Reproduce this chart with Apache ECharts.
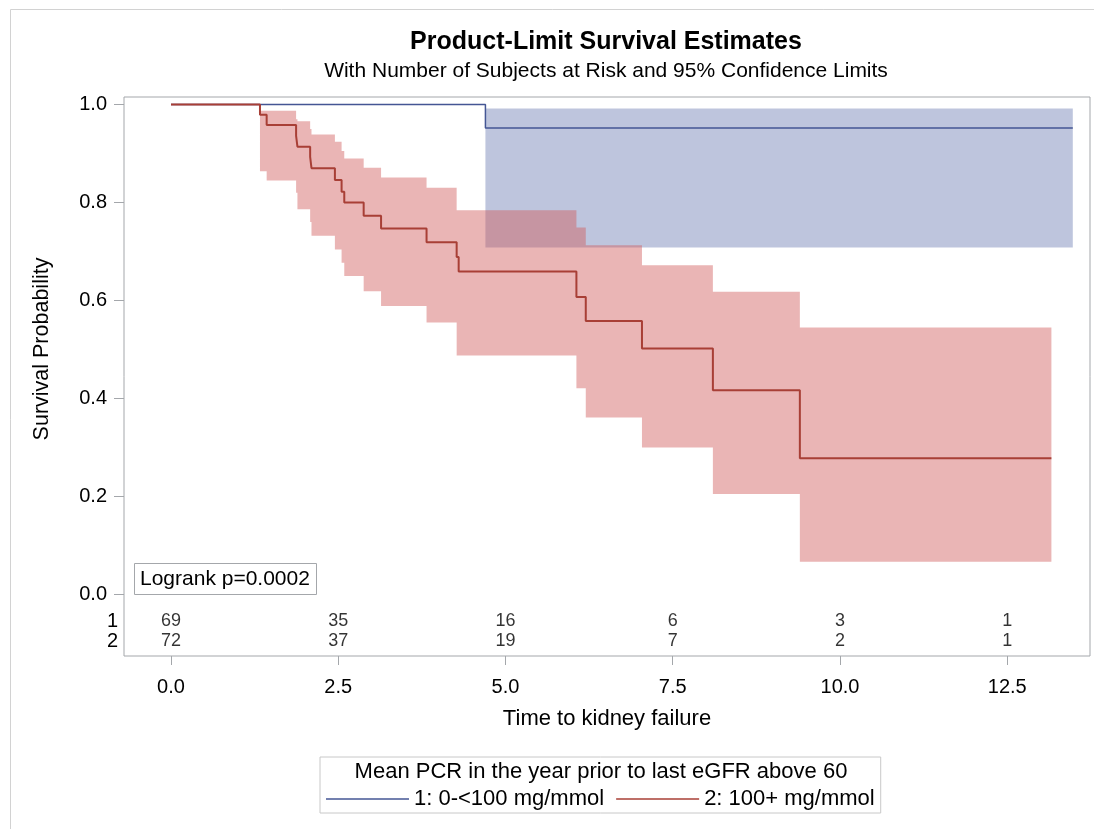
<!DOCTYPE html>
<html><head><meta charset="utf-8">
<script src="https://cdn.jsdelivr.net/npm/echarts@6/dist/echarts.min.js"></script>
<style>html,body{margin:0;padding:0;background:#fff}#c{width:1094px;height:829px}</style>
</head><body><div id="c"></div>
<script>
// ---- data ----
const xTicks = [0, 2.5, 5, 7.5, 10, 12.5];
const yTicks = [0, 0.2, 0.4, 0.6, 0.8, 1.0];
const groupNames = ['1: 0-<100 mg/mmol', '2: 100+ mg/mmol'];
const riskRowLabels = ['1', '2'];
const riskTimes = [0, 2.5, 5, 7.5, 10, 12.5];
const riskGroup1 = [69, 35, 16, 6, 3, 1];
const riskGroup2 = [72, 37, 19, 7, 2, 1];

const g1Time  = [0, 4.70, 13.48];
const g1Surv  = [1, 0.952, 0.952];
const g1Lower = [1, 0.708, 0.708];
const g1Upper = [1, 0.992, 0.992];

const g2Time  = [0, 1.33, 1.43, 1.87, 1.89, 2.08, 2.10, 2.45, 2.55, 2.59, 2.88, 3.14, 3.82, 4.27, 4.30, 6.06, 6.20, 7.04, 8.10, 9.40, 13.16];
const g2Surv  = [1, 0.979, 0.958, 0.936, 0.914, 0.893, 0.870, 0.846, 0.822, 0.800, 0.773, 0.747, 0.719, 0.689, 0.659, 0.607, 0.558, 0.502, 0.417, 0.278, 0.278];
const g2Lower = [1, 0.864, 0.845, 0.820, 0.786, 0.760, 0.732, 0.704, 0.677, 0.650, 0.619, 0.589, 0.555, 0.488, 0.488, 0.421, 0.361, 0.300, 0.205, 0.067, 0.067];
const g2Upper = [1, 0.987, 0.987, 0.970, 0.966, 0.950, 0.939, 0.924, 0.905, 0.890, 0.871, 0.851, 0.830, 0.784, 0.784, 0.749, 0.713, 0.672, 0.618, 0.545, 0.545];

const logrankText = 'Logrank p=0.0002';
const titleText = 'Product-Limit Survival Estimates';
const subtitleText = 'With Number of Subjects at Risk and 95% Confidence Limits';
const legendTitle = 'Mean PCR in the year prior to last eGFR above 60';
const xName = 'Time to kidney failure';
const yName = 'Survival Probability';

// ---- styling / layout ----
const FONT = "'Liberation Sans', Arial, sans-serif";
const FRAME = '#a4a7ab';
const BLUE = '#445694', RED = '#A83F36';
const BLUE_FILL = 'rgba(111,126,179,0.45)', RED_FILL = 'rgba(208,91,91,0.45)';
const X_MIN = -0.7025, X_MAX = 13.737;
const Y_MIN = -0.1255, Y_MAX = 1.0153;

const pairs = (t, v) => t.map((x, i) => [x, v[i]]);

// confidence band as one stepped polygon, mapped through the axes with api.coord
function bandSeries(t, lo, up, fill) {
  return {
    type: 'custom', xAxisIndex: 0, yAxisIndex: 0, silent: true, z: 1, clip: true,
    data: t.map((x, i) => [x, lo[i], up[i]]),
    encode: { x: 0, y: [1, 2] },
    renderItem: (params, api) => {
      if (params.dataIndex !== 0) return null;
      const n = t.length, pts = [];
      for (let i = 0; i < n; i++) {
        const x2 = i + 1 < n ? t[i + 1] : t[i];
        pts.push(api.coord([t[i], up[i]]), api.coord([x2, up[i]]));
      }
      for (let i = n - 1; i >= 0; i--) {
        const x2 = i + 1 < n ? t[i + 1] : t[i];
        pts.push(api.coord([x2, lo[i]]), api.coord([t[i], lo[i]]));
      }
      return { type: 'polygon', shape: { points: pts }, style: { fill: fill } };
    }
  };
}

const chart = echarts.init(document.getElementById('c'), null, { renderer: 'canvas' });
const axisText = { fontFamily: FONT, fontSize: 20, color: '#000' };

chart.setOption({
  animation: false,
  backgroundColor: '#fff',
  textStyle: { fontFamily: FONT },
  grid: [
    { left: 124, top: 97, width: 966, height: 559, show: true, borderColor: FRAME, borderWidth: 1, backgroundColor: 'transparent' },
    { left: 124, top: 611, width: 966, height: 40, show: false }
  ],
  xAxis: [
    { type: 'value', gridIndex: 0, min: X_MIN, max: X_MAX,
      axisLine: { show: false, onZero: false }, splitLine: { show: false },
      axisTick: { show: true, customValues: xTicks, length: 9, lineStyle: { color: FRAME, width: 1 } },
      axisLabel: { customValues: xTicks, formatter: v => v.toFixed(1), margin: 21, ...axisText },
      name: xName, nameLocation: 'middle', nameGap: 52,
      nameTextStyle: { fontFamily: FONT, fontSize: 22, color: '#000' } },
    { type: 'value', gridIndex: 1, min: X_MIN, max: X_MAX, show: false, axisLine: { onZero: false } }
  ],
  yAxis: [
    { type: 'value', gridIndex: 0, min: Y_MIN, max: Y_MAX,
      axisLine: { show: false, onZero: false }, splitLine: { show: false },
      axisTick: { show: true, customValues: yTicks, length: 10, lineStyle: { color: FRAME, width: 1 } },
      axisLabel: { customValues: yTicks, formatter: v => v.toFixed(1), margin: 17, ...axisText } },
    { type: 'category', gridIndex: 1, data: riskRowLabels, inverse: true,
      axisLine: { show: false, onZero: false }, axisTick: { show: false }, splitLine: { show: false },
      axisLabel: { margin: 6, interval: 0, ...axisText } }
  ],
  legend: {
    left: 320, top: 757, padding: [31, 6, 3, 6],
    borderColor: '#c8c8c8', borderWidth: 1, itemGap: 12,
    itemWidth: 83, itemHeight: 1.5, icon: 'rect',
    textStyle: { fontFamily: FONT, fontSize: 22, color: '#000' },
    data: [{ name: groupNames[0] }, { name: groupNames[1] }]
  },
  graphic: [
    { type: 'rect', left: 8, top: 7, silent: true, z: -10,
      shape: { width: 1200, height: 1000 }, style: { fill: 'none', stroke: '#d2d2d2', lineWidth: 1 } },
    { type: 'text', x: 606, y: 42, silent: true,
      style: { text: titleText, font: "bold 25px " + FONT, fill: '#000', textAlign: 'center', textVerticalAlign: 'middle' } },
    { type: 'text', x: 606, y: 71, silent: true,
      style: { text: subtitleText, font: "21px " + FONT, fill: '#000', textAlign: 'center', textVerticalAlign: 'middle' } },
    { type: 'text', x: 42, y: 349, rotation: Math.PI / 2, silent: true,
      style: { text: yName, font: "21.5px " + FONT, fill: '#000', textAlign: 'center', textVerticalAlign: 'middle' } },
    { type: 'text', x: 601, y: 772, silent: true,
      style: { text: legendTitle, font: "22px " + FONT, fill: '#000', textAlign: 'center', textVerticalAlign: 'middle' } },
    { type: 'rect', x: 134.5, y: 563.5, silent: true, z: 10,
      shape: { width: 182, height: 31 }, style: { fill: '#fff', stroke: FRAME, lineWidth: 1 } },
    { type: 'text', x: 140, y: 579, silent: true, z: 11,
      style: { text: logrankText, font: "21px " + FONT, fill: '#000', textVerticalAlign: 'middle' } }
  ],
  series: [
    bandSeries(g1Time, g1Lower, g1Upper, BLUE_FILL),
    bandSeries(g2Time, g2Lower, g2Upper, RED_FILL),
    { type: 'line', name: groupNames[0], step: 'end', symbol: 'none', silent: true,
      data: pairs(g1Time, g1Surv), color: BLUE, lineStyle: { color: BLUE, width: 1.5 }, z: 3 },
    { type: 'line', name: groupNames[1], step: 'end', symbol: 'none', silent: true,
      data: pairs(g2Time, g2Surv), color: RED, lineStyle: { color: RED, width: 2 }, z: 3 },
    { type: 'scatter', xAxisIndex: 1, yAxisIndex: 1, symbolSize: 0, silent: true,
      data: riskTimes.map((t, i) => [t, 0, riskGroup1[i]]),
      label: { show: true, position: 'inside', formatter: p => String(p.value[2]), fontFamily: FONT, fontSize: 18, color: '#000' } },
    { type: 'scatter', xAxisIndex: 1, yAxisIndex: 1, symbolSize: 0, silent: true,
      data: riskTimes.map((t, i) => [t, 1, riskGroup2[i]]),
      label: { show: true, position: 'inside', formatter: p => String(p.value[2]), fontFamily: FONT, fontSize: 18, color: '#000' } }
  ]
});
</script>
</body></html>
